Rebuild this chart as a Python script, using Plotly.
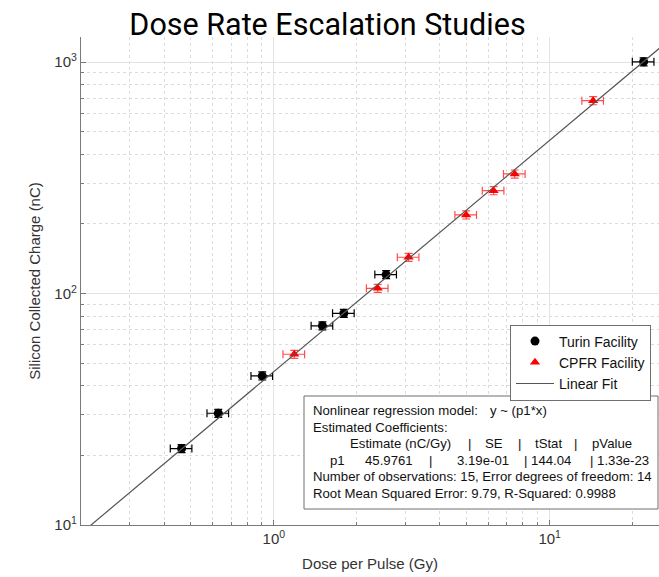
import numpy as np
import plotly.graph_objects as go

# ---- data ----
turin_dose = [0.463, 0.629, 0.908, 1.50, 1.794, 2.553, 21.9]
turin_charge = [21.4, 30.4, 44.1, 72.6, 82.2, 120.8, 1004]
cpfr_dose = [1.186, 2.38, 3.08, 4.98, 6.26, 7.47, 14.37]
cpfr_charge = [54.7, 105.4, 143.6, 218.8, 278.6, 328.9, 682]
dose_err_pct = 9.0
charge_err_pct = 4.0
fit_slope = 45.9761
fit_dose = [0.2, 30.0]
fit_charge = [fit_slope * d for d in fit_dose]

x_major = [1, 10]
x_major_text = ["10<sup>0</sup>", "10<sup>1</sup>"]
y_major = [10, 100, 1000]
y_major_text = ["10<sup>1</sup>", "10<sup>2</sup>", "10<sup>3</sup>"]
x_minor = [m * 10 ** e for e in (-1, 0, 1) for m in range(2, 10)]
y_minor = [m * 10 ** e for e in (1, 2, 3) for m in range(2, 10)]

W, H = 659, 577
L, R, T, B = 81, 0, 37, 52
pw, ph = W - L - R, H - T - B

def px(xp):
    return (xp - L) / pw

def py(yp):
    return (H - B - yp) / ph

fig = go.Figure()

fig.add_trace(go.Scatter(
    x=turin_dose, y=turin_charge, mode="markers", name="Turin Facility",
    marker=dict(symbol="circle", size=9, color="black"),
    error_x=dict(type="percent", value=dose_err_pct, color="black", thickness=1.2, width=4),
    error_y=dict(type="percent", value=charge_err_pct, color="black", thickness=1.2, width=4),
))
fig.add_trace(go.Scatter(
    x=cpfr_dose, y=cpfr_charge, mode="markers", name="CPFR Facility",
    marker=dict(symbol="triangle-up", size=9, color="#ff0000"),
    error_x=dict(type="percent", value=dose_err_pct, color="#ff4d4d", thickness=1.2, width=4),
    error_y=dict(type="percent", value=charge_err_pct, color="#ff4d4d", thickness=1.2, width=4),
))
fig.add_trace(go.Scatter(
    x=fit_dose, y=fit_charge, mode="lines", name="Linear Fit",
    line=dict(color="#555555", width=1.2),
))

axis_common = dict(
    type="log", showline=True, linecolor="#7a7a7a", linewidth=1.2,
    ticks="inside", ticklen=5, tickcolor="#7a7a7a",
    showgrid=True, gridcolor="#e3e3e3", gridwidth=1,
    zeroline=False, mirror=False,
    tickfont=dict(family="Liberation Sans", size=15, color="#333333"),
    title_font=dict(family="Liberation Sans", size=15, color="#333333"),
)

fig.update_xaxes(
    **axis_common,
    range=[np.log10(0.2), np.log10(24.9)],
    tickmode="array", tickvals=x_major, ticktext=x_major_text,
    minor=dict(tickmode="array", tickvals=x_minor, ticks="inside", ticklen=3,
               tickcolor="#7a7a7a", showgrid=True, gridcolor="#dcdcdc", griddash="dot"),
    title=dict(text="Dose per Pulse (Gy)", standoff=12),
)
fig.update_yaxes(
    **axis_common,
    range=[1, 1 + (525 - 37) / 231.4],
    tickmode="array", tickvals=y_major, ticktext=y_major_text,
    minor=dict(tickmode="array", tickvals=y_minor, ticks="inside", ticklen=3,
               tickcolor="#7a7a7a", showgrid=True, gridcolor="#dcdcdc", griddash="dot"),
    title=dict(text="Silicon Collected Charge (nC)", standoff=10),
)

# statistics box
box_left, box_top, box_right, box_bottom = 304, 396, 658, 509
fig.add_shape(type="rect", xref="paper", yref="paper",
              x0=px(box_left), x1=px(box_right), y0=py(box_bottom), y1=py(box_top),
              line=dict(color="#6f6f6f", width=1), fillcolor="white", layer="above")

stat_font = dict(family="Liberation Sans", size=13.2, color="#111111")
segments = [
    (311, 410, "Nonlinear regression model:"),
    (488, 410, "y ~ (p1*x)"),
    (311, 427, "Estimated Coefficients:"),
    (348, 443, "Estimate (nC/Gy)"),
    (466, 443, "|"),
    (483, 443, "SE"),
    (516, 443, "|"),
    (533, 443, "tStat"),
    (572, 443, "|"),
    (590, 443, "pValue"),
    (328, 460, "p1"),
    (363, 460, "45.9761"),
    (427, 460, "|"),
    (455, 460, "3.19e-01"),
    (522, 460, "| 144.04"),
    (588, 460, "| 1.33e-23"),
    (311, 476, "Number of observations: 15, Error degrees of freedom: 14"),
    (311, 493, "Root Mean Squared Error: 9.79, R-Squared: 0.9988"),
]
for xp, yp, txt in segments:
    fig.add_annotation(x=px(xp), y=py(yp), xref="paper", yref="paper",
                       text=txt, showarrow=False, xanchor="left", yanchor="middle",
                       font=stat_font)

fig.update_layout(
    width=W, height=H,
    margin=dict(l=L, r=R, t=T, b=B, autoexpand=False),
    paper_bgcolor="white", plot_bgcolor="white",
    title=dict(text="Dose Rate Escalation Studies", x=(130 + 525) / 2 / W, xanchor="center",
               xref="container", y=1 - 24 / H, yref="container", yanchor="middle",
               font=dict(family="Roboto", size=30.5, color="black")),
    showlegend=True,
    legend=dict(x=px(510), y=py(324.5), xanchor="left", yanchor="top",
                bordercolor="#6f6f6f", borderwidth=1, bgcolor="white",
                font=dict(family="Liberation Sans", size=14, color="#111111"),
                tracegroupgap=0, itemwidth=38),
)

fig.write_html("out.html")
